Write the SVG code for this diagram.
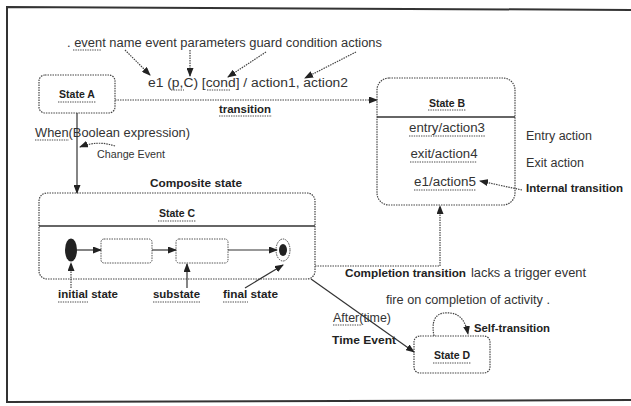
<svg xmlns="http://www.w3.org/2000/svg" width="631" height="406" viewBox="0 0 631 406">
<defs>
<marker id="ah" markerUnits="userSpaceOnUse" markerWidth="9" markerHeight="7" refX="8" refY="3.5" orient="auto">
<path d="M0,0 L9,3.5 L0,7 Z" fill="#222"/>
</marker>
<style>
.t{font-family:"Liberation Sans",Arial,sans-serif;font-size:12px;fill:#333}
.s{font-size:10.5px}
.b{font-family:"Liberation Sans",Arial,sans-serif;font-size:10.5px;font-weight:bold;fill:#222}
.m{text-anchor:middle}
.box{fill:#fff;stroke:#444;stroke-width:1.2;stroke-dasharray:1.5 1}
.sub{fill:#fff;stroke:#555;stroke-width:1;stroke-dasharray:1.5 1}
.div{stroke:#333;stroke-width:1.3}
.c{fill:none;stroke:#333;stroke-width:1.2}
.d{fill:none;stroke:#444;stroke-width:1.2;stroke-dasharray:1.5 1}
.a{marker-end:url(#ah)}
.sq{stroke:#888;stroke-width:1.6;stroke-dasharray:1.4 1}
</style>
</defs>
<rect width="631" height="406" fill="#fff"/>
<path d="M640,10 L7,7 L7,402 L640,400" fill="none" stroke="#333" stroke-width="2"/>

<g id="annotations">
<text class="t" x="67" y="47" textLength="315" lengthAdjust="spacingAndGlyphs">. event name event parameters guard condition actions</text>
<line class="sq" x1="73" y1="50" x2="101" y2="50"/>
<text class="t" x="148" y="87" textLength="200" lengthAdjust="spacingAndGlyphs">e1 (p,C) [cond] / action1, action2</text>
<line class="sq" x1="171" y1="90" x2="184" y2="90"/>
<line class="sq" x1="207" y1="90" x2="230" y2="90"/>
<text class="b m" x="245" y="113" textLength="52" lengthAdjust="spacingAndGlyphs">transition</text>
<line class="sq" x1="219" y1="116" x2="272" y2="116"/>
<text class="t" x="35" y="137" textLength="155" lengthAdjust="spacingAndGlyphs">When(Boolean expression)</text>
<line class="sq" x1="35" y1="140" x2="69" y2="140"/>
<text class="t s" x="97" y="158" textLength="68" lengthAdjust="spacingAndGlyphs">Change Event</text>
<text class="b" x="150" y="187" textLength="92" lengthAdjust="spacingAndGlyphs">Composite state</text>
<text class="t" x="526" y="140" textLength="66" lengthAdjust="spacingAndGlyphs">Entry action</text>
<text class="t" x="526" y="167" textLength="58" lengthAdjust="spacingAndGlyphs">Exit action</text>
<text class="b" x="526" y="192" textLength="97" lengthAdjust="spacingAndGlyphs">Internal transition</text>
<text class="b" x="58" y="298" textLength="60" lengthAdjust="spacingAndGlyphs">initial state</text>
<line class="sq" x1="58" y1="302" x2="88" y2="302"/>
<text class="b" x="153" y="298" textLength="47" lengthAdjust="spacingAndGlyphs">substate</text>
<line class="sq" x1="153" y1="302" x2="200" y2="302"/>
<text class="b" x="223" y="298" textLength="55" lengthAdjust="spacingAndGlyphs">final state</text>
<line class="sq" x1="223" y1="302" x2="248" y2="302"/>
<text class="b" x="345" y="277" textLength="121" lengthAdjust="spacingAndGlyphs">Completion transition</text>
<text class="t" x="471" y="277" textLength="115" lengthAdjust="spacingAndGlyphs">lacks a trigger event</text>
<text class="t" x="386" y="304" textLength="164" lengthAdjust="spacingAndGlyphs">fire on completion of activity .</text>
<text class="t" x="333" y="322" textLength="58" lengthAdjust="spacingAndGlyphs">After(time)</text>
<line class="sq" x1="333" y1="325" x2="362" y2="325"/>
<text class="b" x="332" y="344" textLength="64" lengthAdjust="spacingAndGlyphs">Time Event</text>
<text class="b" x="474" y="332" textLength="76" lengthAdjust="spacingAndGlyphs">Self-transition</text>
</g>

<g id="stateA">
<rect class="box" x="39" y="75" width="76" height="38" rx="6"/>
<text class="b m" x="77" y="98">State A</text>
<line class="sq" x1="58" y1="102" x2="96" y2="102"/>
</g>

<g id="stateB">
<rect class="box" x="377" y="78" width="138" height="127" rx="12"/>
<line class="div" x1="377" y1="117" x2="515" y2="117"/>
<text class="b m" x="447" y="107">State B</text>
<line class="sq" x1="428" y1="110" x2="466" y2="110"/>
<text class="t m" x="447" y="132" textLength="76" lengthAdjust="spacingAndGlyphs">entry/action3</text>
<line class="sq" x1="409" y1="136" x2="485" y2="136"/>
<text class="t m" x="444" y="158" textLength="67" lengthAdjust="spacingAndGlyphs">exit/action4</text>
<line class="sq" x1="410" y1="162" x2="477" y2="162"/>
<text class="t m" x="445" y="186" textLength="62" lengthAdjust="spacingAndGlyphs">e1/action5</text>
<line class="sq" x1="414" y1="190" x2="476" y2="190"/>
</g>

<g id="stateC">
<rect class="box" x="39" y="193" width="276" height="86" rx="8"/>
<line class="div" x1="39" y1="226" x2="315" y2="226"/>
<text class="b m" x="177" y="217">State C</text>
<line class="sq" x1="158" y1="221" x2="196" y2="221"/>
</g>

<g id="initial">
<ellipse cx="71" cy="250" rx="6" ry="11.5" fill="#222"/>
</g>
<g id="substate1">
<rect class="sub" x="101" y="239" width="51" height="24" rx="3"/>
</g>
<g id="substate2">
<rect class="sub" x="176" y="239" width="52" height="24" rx="3"/>
</g>
<g id="final">
<ellipse cx="283" cy="250" rx="7" ry="11" fill="#fff" stroke="#444" stroke-width="1" stroke-dasharray="1.5 1"/>
<ellipse cx="283" cy="250" rx="4" ry="6" fill="#222"/>
</g>

<g id="stateD">
<rect class="box" x="414" y="336" width="76" height="37" rx="6"/>
<text class="b m" x="452" y="359">State D</text>
<line class="sq" x1="433" y1="363" x2="471" y2="363"/>
</g>

<g id="connectors">
<path class="d a" d="M125,50 L150,75"/>
<path class="d a" d="M190,50 L190,76"/>
<path class="d a" d="M266,52 L228,77"/>
<path class="d a" d="M356,52 L305,78"/>
<path class="d a" d="M115,100 L377,100"/>
<path class="c a" d="M77,113 L77,193"/>
<path class="d a" d="M115,146 Q98,140 80,147"/>
<path class="c a" d="M77,250 L101,250"/>
<path class="c a" d="M152,250 L176,250"/>
<path class="c a" d="M228,250 L277,250"/>
<path class="d a" d="M71,288 L71,263"/>
<path class="c a" d="M187,288 L187,264"/>
<path class="c a" d="M245,288 L283,265"/>
<path class="d a" d="M315,266 L440,266 L440,206"/>
<path class="c a" d="M311,279 L414,352"/>
<path class="d a" d="M434,336 C430,315 440,312 450,313 C462,314 466,324 468,334"/>
<path class="d a" d="M522,190 L480,181"/>
</g>
</svg>
